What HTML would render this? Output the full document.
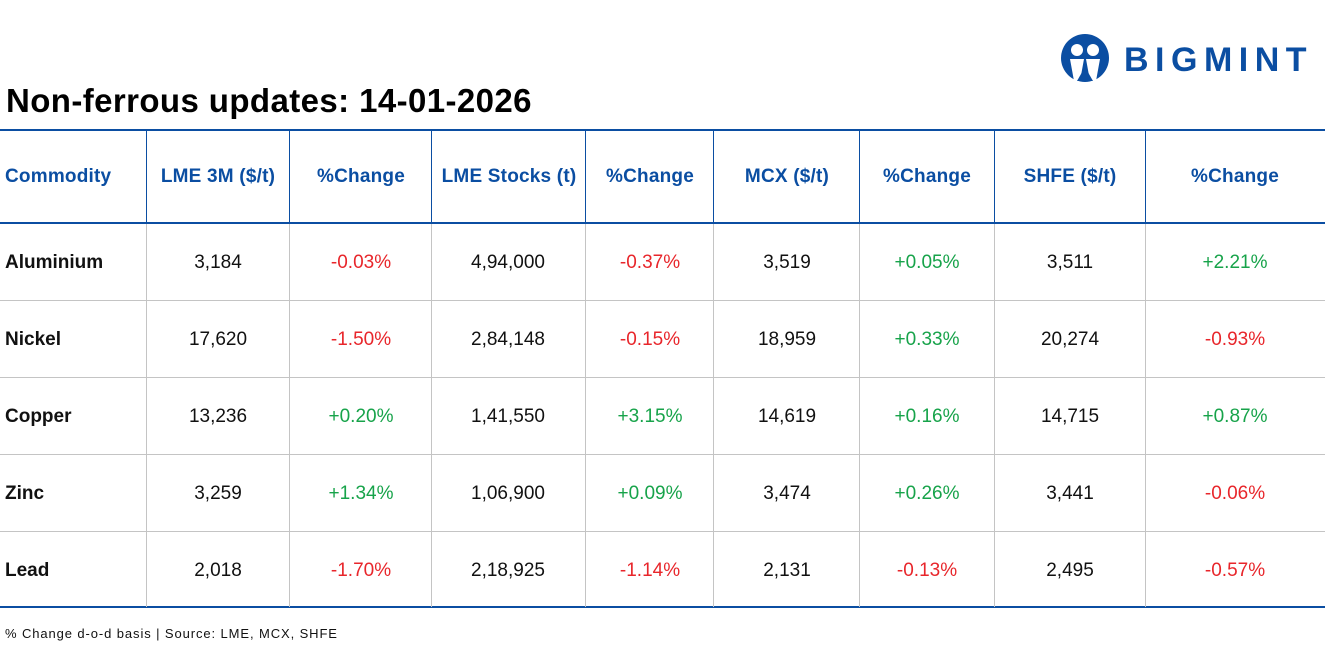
<!DOCTYPE html>
<html><head><meta charset="utf-8"><style>
body{margin:0;width:1325px;height:647px;background:#fff;position:relative;overflow:hidden;font-family:"Liberation Sans",sans-serif}
.t{position:absolute;white-space:nowrap}
.c{transform:translateX(-50%)}
.h{color:#0b4ea2;font-weight:bold;font-size:19px;top:166px;letter-spacing:0.2px}
.b{font-size:19px;color:#111}
.r{color:#e8262b}.g{color:#17a34a}
.hl{position:absolute;left:0;width:1325px;height:2px;background:#0b4ea2}
.gl{position:absolute;left:0;width:1325px;height:1px;background:#c4c4c4}
.vb{position:absolute;top:131px;height:92px;width:1px;background:#0b4ea2}
.vg{position:absolute;top:224px;height:383px;width:1px;background:#c4c4c4}
</style></head><body>
<div class="t" style="left:6px;top:82px;font-size:33px;font-weight:bold;color:#000;letter-spacing:0.4px">Non-ferrous updates: 14-01-2026</div>
<svg class="t" style="left:1060px;top:34px" width="52" height="48" viewBox="0 0 52 48">
<circle cx="25" cy="24" r="24" fill="#0b4ea2"/>
<circle cx="17" cy="16" r="6" fill="#fff"/><circle cx="33" cy="16" r="6" fill="#fff"/>
<path d="M10 25h14l-4 22h-6zM26 25h14l-4 22h-6z" fill="#fff"/>
<path d="M17 47l8-14 8 14z" fill="#0b4ea2"/>
</svg>
<div class="t" style="left:1124px;top:41px;font-size:34px;font-weight:bold;color:#0b4ea2;letter-spacing:6.5px">BIGMINT</div>
<div class="hl" style="top:129px"></div>
<div class="hl" style="top:222px"></div>
<div class="hl" style="top:606px"></div>
<div class="gl" style="top:300px"></div><div class="gl" style="top:377px"></div><div class="gl" style="top:454px"></div><div class="gl" style="top:531px"></div>
<div class="vb" style="left:146px"></div><div class="vb" style="left:289px"></div><div class="vb" style="left:431px"></div><div class="vb" style="left:585px"></div><div class="vb" style="left:713px"></div><div class="vb" style="left:859px"></div><div class="vb" style="left:994px"></div><div class="vb" style="left:1145px"></div>
<div class="vg" style="left:146px"></div><div class="vg" style="left:289px"></div><div class="vg" style="left:431px"></div><div class="vg" style="left:585px"></div><div class="vg" style="left:713px"></div><div class="vg" style="left:859px"></div><div class="vg" style="left:994px"></div><div class="vg" style="left:1145px"></div>
<div class="t h" style="left:5px">Commodity</div>
<div class="t h c" style="left:218px">LME 3M ($/t)</div>
<div class="t h c" style="left:361px">%Change</div>
<div class="t h c" style="left:509px">LME Stocks (t)</div>
<div class="t h c" style="left:650px">%Change</div>
<div class="t h c" style="left:787px">MCX ($/t)</div>
<div class="t h c" style="left:927px">%Change</div>
<div class="t h c" style="left:1070px">SHFE ($/t)</div>
<div class="t h c" style="left:1235px">%Change</div>
<div id="rows"></div>
<div class="t" style="left:5px;top:626px;font-size:13px;color:#111;letter-spacing:0.9px">% Change d-o-d basis | Source: LME, MCX, SHFE</div>
<script>
var d=[["Aluminium","3,184","-0.03%","4,94,000","-0.37%","3,519","+0.05%","3,511","+2.21%"],
["Nickel","17,620","-1.50%","2,84,148","-0.15%","18,959","+0.33%","20,274","-0.93%"],
["Copper","13,236","+0.20%","1,41,550","+3.15%","14,619","+0.16%","14,715","+0.87%"],
["Zinc","3,259","+1.34%","1,06,900","+0.09%","3,474","+0.26%","3,441","-0.06%"],
["Lead","2,018","-1.70%","2,18,925","-1.14%","2,131","-0.13%","2,495","-0.57%"]];
var xs=[218,361,508,650,787,927,1070,1235],h="";
d.forEach(function(r,i){var y=252+i*77;
h+='<div class="t b" style="left:5px;top:'+y+'px;font-weight:bold">'+r[0]+'</div>';
for(var j=1;j<9;j++){var cl=j%2==0?(r[j][0]=='-'?' r':' g'):'';
h+='<div class="t b c'+cl+'" style="left:'+xs[j-1]+'px;top:'+y+'px">'+r[j]+'</div>';}});
document.getElementById('rows').innerHTML=h;
</script>
</body></html>
